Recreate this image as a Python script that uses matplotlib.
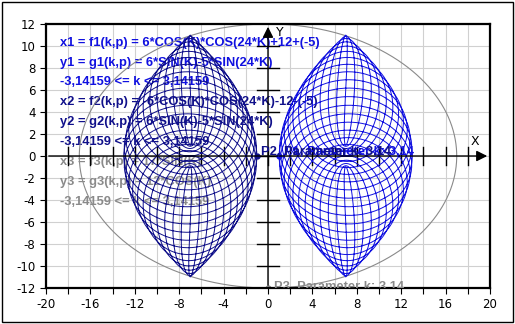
import numpy as np
import matplotlib.pyplot as plt
from matplotlib.patches import Rectangle

plt.rcParams['axes.unicode_minus'] = False

# Parameter k: -pi .. pi
k_min, k_max = -3.14159, 3.14159
n_points = 4000

# Kurwy parametryczne (wspolczynniki z opisu na wykresie)
r_main = 6        # 6*COS(K), 6*SIN(K)
r_wave = 5        # 5*SIN(24*K)
freq = 24
shift = 12 + (-5)  # +12+(-5)
ell_a = 17        # 17*SIN(K)
ell_b = 12        # 12*COS(K)

labels_1 = ["x1 = f1(k,p) = 6*COS(K)*COS(24*K)+12+(-5)",
            "y1 = g1(k,p) = 6*SIN(K)-5*SIN(24*K)",
            "-3,14159 <= k <= 3,14159"]
labels_2 = ["x2 = f2(k,p) = -6*COS(K)*COS(24*K)-12-(-5)",
            "y2 = g2(k,p) = 6*SIN(K)-5*SIN(24*K)",
            "-3,14159 <= k <= 3,14159"]
labels_3 = ["x3 = f3(k,p) = 17*SIN(K)",
            "y3 = g3(k,p) = 12*COS(K)",
            "-3,14159 <= k <= 3,14159"]
point_labels = ["P1, Parameter k: 3,14", "P2, Parameter k: 3,14", "P3, Parameter k: 3,14"]

c1 = '#1010e0'
c2 = '#10108a'
c3 = '#8a8a8a'

k = np.linspace(k_min, k_max, n_points)
x1 = r_main * np.cos(k) * np.cos(freq * k) + shift
y1 = r_main * np.sin(k) - r_wave * np.sin(freq * k)
x2 = -r_main * np.cos(k) * np.cos(freq * k) - shift
y2 = r_main * np.sin(k) - r_wave * np.sin(freq * k)
x3 = ell_a * np.sin(k)
y3 = ell_b * np.cos(k)

fig = plt.figure(figsize=(5.15, 3.24), dpi=100)
fig.patches.append(Rectangle((0.004, 0.007), 0.992, 0.987, transform=fig.transFigure,
                             fill=False, edgecolor='black', lw=1))
ax = fig.add_axes([0.0893, 0.1111, 0.8622, 0.8148])

ax.set_xlim(-20, 20)
ax.set_ylim(-12, 12)
ax.set_xticks(np.arange(-20, 21, 4))
ax.set_xticks(np.arange(-20, 21, 2), minor=True)
ax.set_yticks(np.arange(-12, 13, 2))
ax.grid(True, which='both', color='#d0d0d0', lw=0.8)
ax.set_axisbelow(True)
ax.tick_params(which='both', direction='out', length=4, width=0.8, labelsize=8.5)
for s in ax.spines.values():
    s.set_linewidth(1.6)

fs = 9.3
# opisy funkcji (pod krzywymi)
ys = [10.3, 8.5, 6.7, 4.9, 3.1, 1.3, -0.5, -2.4, -4.2]
for i, (txt, col) in enumerate(zip(labels_1 + labels_2 + labels_3, [c1] * 3 + [c2] * 3 + [c3] * 3)):
    ax.text(-18.7, ys[i], txt, color=col, fontsize=fs, fontweight='bold',
            family='Liberation Sans', va='center', zorder=1.5)

# osie X / Y ze strzalkami
ax.annotate('', xy=(20, 0), xytext=(-20, 0),
            arrowprops=dict(arrowstyle='-|>', color='black', lw=1, mutation_scale=16))
ax.annotate('', xy=(0, 12), xytext=(0, -12),
            arrowprops=dict(arrowstyle='-|>', color='black', lw=1, mutation_scale=16))
for t in range(-18, 19, 2):
    ax.plot([t, t], [-0.8, 0.8], color='black', lw=1)
for t in range(-10, 11, 2):
    ax.plot([-1.0, 1.0], [t, t], color='black', lw=1)
ax.text(18.6, 1.3, 'X', fontsize=9, ha='center', va='center')
ax.text(1.1, 11.2, 'Y', fontsize=9, ha='center', va='center')

ax.plot(x3, y3, color=c3, lw=0.8)
ax.plot(x2, y2, color=c2, lw=0.7)
ax.plot(x1, y1, color=c1, lw=0.7)

# punkty dla k = 3,14
ax.plot([x1[-1]], [y1[-1]], 'o', color=c1, ms=3.5)
ax.plot([x2[-1]], [y2[-1]], 'o', color=c2, ms=3.5)
ax.plot([x3[-1]], [y3[-1]], 'o', color=c3, ms=3.5)
ax.text(x1[-1] + 0.4, 0.4, point_labels[0], color=c1, fontsize=fs, fontweight='bold',
        family='Liberation Sans', va='center')
ax.text(x2[-1] + 0.4, 0.4, point_labels[1], color=c2, fontsize=fs, fontweight='bold',
        family='Liberation Sans', va='center')
ax.text(x3[-1] + 0.5, -11.95, point_labels[2], color=c3, fontsize=fs, fontweight='bold',
        family='Liberation Sans', va='center', clip_on=True)

fig.savefig('out.png', dpi=100)
